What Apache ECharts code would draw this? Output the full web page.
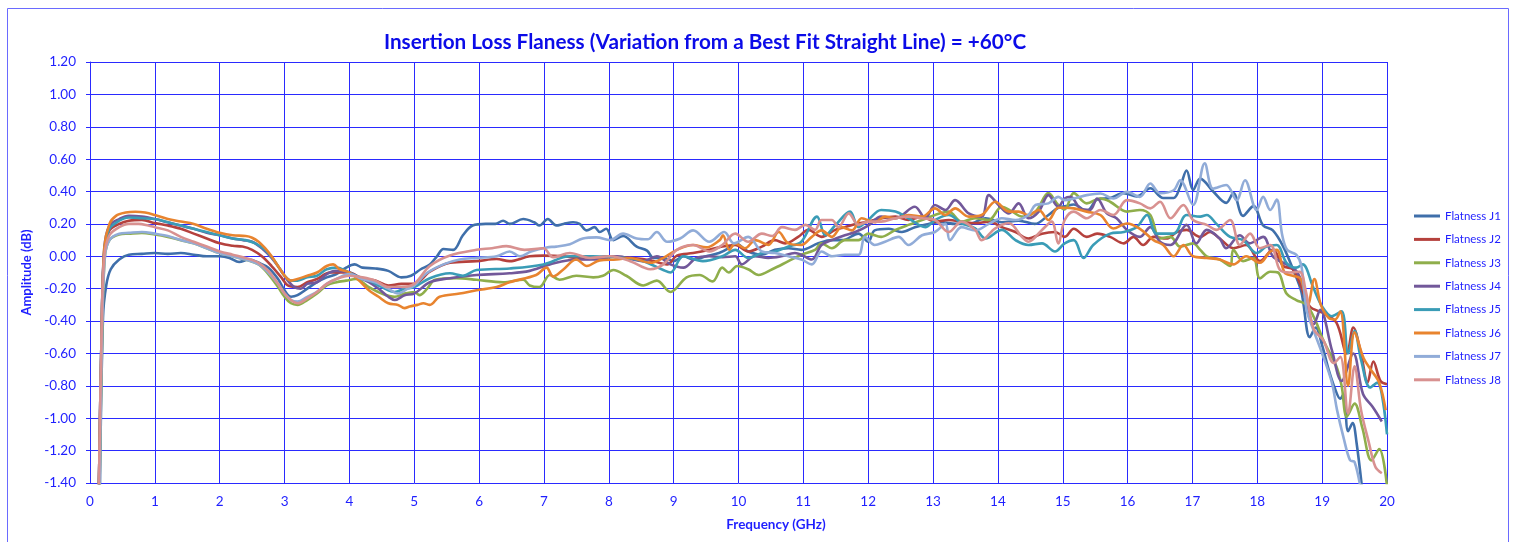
<!DOCTYPE html>
<html>
<head>
<meta charset="utf-8">
<title>Insertion Loss Flatness +60°C</title>
<script src="https://cdn.jsdelivr.net/npm/echarts@6/dist/echarts.min.js"></script>
<style>
  html, body { margin: 0; padding: 0; background: #ffffff; }
  #chart { width: 1516px; height: 542px; }
</style>
</head>
<body>
<div id="chart"></div>
<script>
// Flatness traces, [frequency GHz, deviation dB]
const flatnessJ1 = [[0.15,-1.55],[0.2,-0.38],[0.25,-0.18],[0.32,-0.08],[0.45,-0.02],[0.6,0.01],[0.8,0.015],[1.0,0.02],[1.2,0.015],[1.4,0.02],[1.6,0.01],[1.8,0.0],[2.0,0.0],[2.15,-0.01],[2.3,-0.035],[2.45,-0.02],[2.6,-0.04],[2.75,-0.07],[2.9,-0.14],[3.0,-0.21],[3.1,-0.25],[3.2,-0.24],[3.35,-0.2],[3.5,-0.16],[3.65,-0.13],[3.8,-0.11],[3.95,-0.07],[4.08,-0.05],[4.2,-0.07],[4.4,-0.075],[4.6,-0.09],[4.8,-0.13],[4.95,-0.12],[5.1,-0.08],[5.24,-0.05],[5.35,0.0],[5.45,0.045],[5.6,0.04],[5.75,0.13],[5.9,0.19],[6.1,0.2],[6.25,0.2],[6.37,0.22],[6.47,0.2],[6.68,0.23],[6.85,0.21],[6.93,0.19],[7.06,0.23],[7.19,0.19],[7.3,0.2],[7.45,0.21],[7.55,0.2],[7.66,0.16],[7.78,0.18],[7.86,0.15],[7.96,0.17],[8.07,0.1],[8.22,0.125],[8.43,0.06],[8.59,0.035],[8.69,-0.01],[8.85,-0.01],[9.0,-0.03],[9.15,0.0],[9.3,-0.02],[9.5,0.0],[9.7,0.02],[9.85,0.05],[9.95,0.08],[10.15,0.03],[10.36,0.01],[10.56,0.04],[10.77,0.05],[10.97,0.04],[11.23,0.08],[11.44,0.1],[11.6,0.1],[11.85,0.14],[12.0,0.09],[12.1,0.16],[12.32,0.17],[12.52,0.15],[12.72,0.18],[12.93,0.2],[13.14,0.21],[13.34,0.2],[13.55,0.2],[13.81,0.235],[14.06,0.21],[14.32,0.22],[14.57,0.2],[14.78,0.255],[14.93,0.3],[15.05,0.31],[15.17,0.32],[15.37,0.28],[15.53,0.35],[15.73,0.36],[15.94,0.39],[16.14,0.37],[16.35,0.42],[16.55,0.36],[16.71,0.36],[16.81,0.43],[16.91,0.53],[17.01,0.41],[17.12,0.48],[17.32,0.4],[17.52,0.33],[17.63,0.39],[17.78,0.25],[17.94,0.31],[18.09,0.19],[18.24,0.16],[18.4,0.06],[18.55,-0.08],[18.68,-0.22],[18.81,-0.5],[18.9,-0.44],[19.0,-0.55],[19.1,-0.7],[19.2,-0.82],[19.28,-0.88],[19.33,-0.85],[19.4,-1.08],[19.47,-1.03],[19.53,-1.15],[19.62,-1.45]];
const flatnessJ2 = [[0.13,-1.6],[0.18,-0.45],[0.22,0.02],[0.3,0.16],[0.45,0.2],[0.6,0.22],[0.8,0.225],[1.0,0.205],[1.2,0.19],[1.4,0.17],[1.6,0.14],[1.8,0.11],[2.0,0.08],[2.2,0.065],[2.35,0.06],[2.5,0.04],[2.65,0.0],[2.8,-0.06],[2.95,-0.13],[3.05,-0.18],[3.2,-0.19],[3.35,-0.16],[3.5,-0.14],[3.7,-0.1],[3.85,-0.1],[4.0,-0.1],[4.2,-0.14],[4.4,-0.15],[4.6,-0.18],[4.8,-0.17],[5.0,-0.17],[5.24,-0.095],[5.55,-0.04],[5.96,-0.03],[6.27,-0.017],[6.47,-0.03],[6.78,0.0],[6.99,0.004],[7.3,0.0],[7.66,-0.017],[8.0,0.0],[8.33,-0.01],[8.64,-0.025],[8.9,-0.05],[9.05,0.004],[9.3,0.02],[9.55,0.04],[9.75,0.06],[9.95,0.07],[10.15,0.03],[10.36,0.06],[10.56,0.1],[10.72,0.08],[10.92,0.12],[11.08,0.163],[11.28,0.12],[11.49,0.163],[11.64,0.18],[11.85,0.204],[12.0,0.214],[12.2,0.235],[12.42,0.245],[12.62,0.224],[12.83,0.245],[13.03,0.214],[13.24,0.224],[13.44,0.214],[13.65,0.204],[13.86,0.214],[14.06,0.18],[14.27,0.15],[14.47,0.11],[14.68,0.14],[14.88,0.15],[15.03,0.12],[15.17,0.17],[15.37,0.12],[15.53,0.14],[15.73,0.12],[15.94,0.08],[16.09,0.12],[16.24,0.07],[16.4,0.12],[16.6,0.11],[16.76,0.15],[16.91,0.163],[17.12,0.12],[17.27,0.15],[17.42,0.11],[17.63,0.05],[17.83,0.07],[18.04,-0.03],[18.24,0.04],[18.4,-0.06],[18.55,-0.08],[18.65,-0.16],[18.81,-0.31],[19.02,-0.35],[19.22,-0.41],[19.38,-0.6],[19.48,-0.44],[19.6,-0.6],[19.7,-0.78],[19.79,-0.65],[19.9,-0.77],[20.0,-0.79]];
const flatnessJ3 = [[0.14,-1.6],[0.19,-0.45],[0.23,0.0],[0.3,0.1],[0.45,0.135],[0.6,0.14],[0.8,0.145],[1.0,0.135],[1.2,0.12],[1.4,0.1],[1.6,0.08],[1.8,0.05],[2.0,0.02],[2.2,0.0],[2.4,-0.02],[2.6,-0.05],[2.75,-0.11],[2.9,-0.19],[3.0,-0.25],[3.1,-0.29],[3.2,-0.3],[3.35,-0.27],[3.5,-0.23],[3.65,-0.18],[3.8,-0.16],[3.95,-0.15],[4.1,-0.14],[4.3,-0.19],[4.5,-0.23],[4.7,-0.25],[4.85,-0.23],[5.0,-0.22],[5.08,-0.24],[5.2,-0.2],[5.32,-0.145],[5.65,-0.135],[5.96,-0.145],[6.37,-0.16],[6.68,-0.145],[6.78,-0.18],[6.93,-0.19],[7.09,-0.115],[7.24,-0.145],[7.5,-0.12],[7.76,-0.13],[7.91,-0.12],[8.07,-0.085],[8.27,-0.12],[8.53,-0.18],[8.74,-0.15],[8.95,-0.22],[9.2,-0.13],[9.4,-0.115],[9.6,-0.155],[9.75,-0.07],[9.85,-0.1],[9.98,-0.06],[10.15,-0.08],[10.31,-0.115],[10.52,-0.08],[10.77,-0.03],[10.97,0.01],[11.18,0.04],[11.28,0.08],[11.44,0.05],[11.64,0.1],[11.85,0.1],[12.0,0.14],[12.2,0.12],[12.42,0.163],[12.62,0.194],[12.83,0.224],[13.03,0.255],[13.24,0.276],[13.44,0.214],[13.65,0.235],[13.86,0.224],[14.06,0.306],[14.22,0.276],[14.37,0.245],[14.58,0.276],[14.78,0.39],[14.93,0.317],[15.03,0.29],[15.17,0.39],[15.37,0.327],[15.58,0.357],[15.73,0.337],[15.99,0.276],[16.19,0.286],[16.35,0.255],[16.5,0.11],[16.66,0.12],[16.81,0.06],[17.01,0.08],[17.12,0.04],[17.22,0.0],[17.42,-0.02],[17.58,-0.06],[17.63,0.04],[17.78,-0.03],[17.94,-0.01],[18.04,-0.136],[18.2,-0.095],[18.32,-0.1],[18.45,-0.23],[18.6,-0.27],[18.76,-0.3],[18.9,-0.4],[19.02,-0.52],[19.22,-0.68],[19.3,-0.8],[19.38,-0.99],[19.5,-0.91],[19.62,-1.06],[19.76,-1.26],[19.88,-1.19],[20.0,-1.42]];
const flatnessJ4 = [[0.13,-1.6],[0.18,-0.45],[0.22,0.05],[0.3,0.19],[0.45,0.23],[0.6,0.25],[0.8,0.245],[1.0,0.23],[1.2,0.21],[1.4,0.19],[1.6,0.17],[1.8,0.145],[2.0,0.13],[2.2,0.11],[2.36,0.1],[2.5,0.09],[2.65,0.05],[2.8,-0.01],[2.95,-0.09],[3.05,-0.15],[3.15,-0.19],[3.25,-0.2],[3.35,-0.17],[3.5,-0.16],[3.65,-0.11],[3.8,-0.09],[4.0,-0.1],[4.15,-0.13],[4.3,-0.16],[4.45,-0.2],[4.6,-0.25],[4.7,-0.27],[4.85,-0.24],[5.0,-0.23],[5.24,-0.16],[5.55,-0.135],[5.96,-0.115],[6.47,-0.105],[6.78,-0.09],[7.09,-0.05],[7.5,-0.02],[7.81,-0.02],[8.12,0.0],[8.53,-0.03],[8.74,0.0],[8.95,-0.05],[9.15,-0.07],[9.35,-0.01],[9.55,0.0],[9.75,-0.005],[9.95,0.0],[10.05,-0.05],[10.25,0.0],[10.46,-0.01],[10.66,0.0],[10.87,0.02],[10.97,0.01],[11.13,-0.02],[11.28,0.07],[11.44,0.1],[11.64,0.13],[11.8,0.15],[12.0,0.19],[12.2,0.245],[12.42,0.235],[12.72,0.306],[12.88,0.235],[13.03,0.317],[13.19,0.286],[13.34,0.347],[13.55,0.265],[13.75,0.245],[13.86,0.378],[14.01,0.317],[14.17,0.265],[14.32,0.327],[14.47,0.235],[14.63,0.276],[14.78,0.378],[14.93,0.306],[15.03,0.357],[15.12,0.367],[15.27,0.296],[15.42,0.286],[15.53,0.357],[15.68,0.265],[15.83,0.235],[15.99,0.163],[16.19,0.12],[16.35,0.18],[16.5,0.09],[16.66,0.07],[16.91,0.194],[17.06,0.08],[17.22,0.163],[17.42,0.11],[17.52,0.05],[17.73,0.13],[17.88,0.08],[18.09,0.12],[18.24,0.0],[18.45,-0.05],[18.6,-0.09],[18.7,-0.18],[18.78,-0.33],[18.87,-0.42],[18.97,-0.33],[19.15,-0.58],[19.3,-0.77],[19.48,-0.6],[19.63,-0.85],[19.78,-0.93],[19.92,-1.02]];
const flatnessJ5 = [[0.13,-1.6],[0.18,-0.45],[0.22,0.03],[0.3,0.17],[0.45,0.22],[0.6,0.24],[0.8,0.235],[1.0,0.23],[1.2,0.21],[1.4,0.19],[1.6,0.17],[1.8,0.15],[2.0,0.13],[2.2,0.11],[2.4,0.1],[2.55,0.08],[2.7,0.04],[2.85,-0.03],[3.0,-0.12],[3.1,-0.15],[3.2,-0.15],[3.35,-0.13],[3.5,-0.12],[3.65,-0.08],[3.8,-0.07],[3.95,-0.09],[4.1,-0.12],[4.3,-0.15],[4.5,-0.19],[4.7,-0.22],[4.85,-0.2],[5.0,-0.19],[5.24,-0.135],[5.55,-0.105],[5.75,-0.12],[5.96,-0.085],[6.47,-0.075],[6.99,-0.05],[7.4,0.0],[7.75,0.0],[8.22,-0.01],[8.53,-0.03],[8.84,-0.085],[8.95,-0.1],[9.15,0.0],[9.45,-0.03],[9.75,0.0],[9.95,0.04],[10.15,-0.01],[10.36,0.02],[10.56,0.03],[10.77,0.06],[10.97,0.09],[11.21,0.245],[11.34,0.13],[11.49,0.19],[11.72,0.276],[11.85,0.18],[12.0,0.224],[12.2,0.286],[12.42,0.276],[12.62,0.235],[12.88,0.18],[13.03,0.224],[13.24,0.255],[13.44,0.204],[13.65,0.173],[13.81,0.11],[14.06,0.163],[14.27,0.1],[14.47,0.07],[14.68,0.08],[14.88,0.03],[15.03,0.08],[15.17,0.1],[15.32,-0.01],[15.47,0.07],[15.73,0.14],[15.94,0.15],[16.14,0.18],[16.3,0.255],[16.45,0.14],[16.71,0.14],[16.91,0.255],[17.12,0.245],[17.22,0.255],[17.37,0.2],[17.58,0.12],[17.78,0.1],[17.99,0.02],[18.14,0.06],[18.3,0.07],[18.45,-0.04],[18.6,-0.07],[18.7,-0.05],[18.86,-0.19],[19.0,-0.31],[19.15,-0.37],[19.3,-0.34],[19.4,-0.6],[19.5,-0.46],[19.6,-0.64],[19.74,-0.81],[19.85,-0.78],[20.0,-1.1]];
const flatnessJ6 = [[0.13,-1.6],[0.18,-0.5],[0.22,0.05],[0.3,0.2],[0.4,0.25],[0.55,0.27],[0.7,0.275],[0.85,0.27],[1.0,0.255],[1.2,0.23],[1.4,0.215],[1.6,0.2],[1.8,0.17],[2.0,0.145],[2.2,0.13],[2.4,0.125],[2.5,0.115],[2.6,0.09],[2.7,0.05],[2.8,0.0],[2.9,-0.06],[3.0,-0.12],[3.1,-0.15],[3.2,-0.14],[3.35,-0.12],[3.5,-0.1],[3.65,-0.06],[3.75,-0.05],[3.85,-0.08],[4.0,-0.1],[4.15,-0.15],[4.3,-0.21],[4.45,-0.25],[4.6,-0.29],[4.75,-0.3],[4.85,-0.32],[4.93,-0.31],[5.05,-0.3],[5.14,-0.29],[5.24,-0.3],[5.39,-0.25],[5.7,-0.23],[5.96,-0.21],[6.27,-0.19],[6.47,-0.16],[6.88,-0.115],[7.04,-0.07],[7.14,-0.125],[7.29,-0.085],[7.5,-0.02],[7.66,-0.06],[7.86,-0.025],[8.12,-0.02],[8.33,-0.01],[8.64,-0.04],[8.84,-0.01],[9.05,0.04],[9.3,0.07],[9.5,0.055],[9.71,0.1],[9.76,0.13],[9.86,0.04],[9.95,0.08],[10.1,0.05],[10.26,0.1],[10.46,0.07],[10.62,0.15],[10.77,0.08],[10.97,0.07],[11.13,0.12],[11.28,0.16],[11.44,0.12],[11.59,0.18],[11.75,0.16],[11.9,0.235],[12.1,0.21],[12.26,0.245],[12.42,0.235],[12.62,0.255],[12.83,0.245],[13.03,0.296],[13.19,0.255],[13.34,0.296],[13.55,0.245],[13.75,0.255],[13.96,0.337],[14.17,0.276],[14.32,0.276],[14.47,0.255],[14.63,0.286],[14.78,0.224],[14.93,0.3],[15.03,0.3],[15.17,0.296],[15.37,0.276],[15.58,0.255],[15.78,0.172],[15.99,0.203],[16.19,0.17],[16.4,0.1],[16.55,0.07],[16.71,0.0],[16.86,0.07],[17.01,0.0],[17.22,-0.01],[17.42,-0.02],[17.63,-0.05],[17.83,0.0],[18.04,-0.04],[18.2,0.03],[18.3,0.04],[18.42,-0.1],[18.55,-0.12],[18.67,-0.14],[18.78,-0.3],[18.88,-0.14],[18.98,-0.3],[19.1,-0.38],[19.2,-0.39],[19.28,-0.34],[19.4,-0.8],[19.5,-0.47],[19.64,-0.63],[19.75,-0.7],[19.88,-0.78],[19.98,-0.95]];
const flatnessJ7 = [[0.14,-1.6],[0.19,-0.4],[0.23,0.0],[0.3,0.1],[0.45,0.14],[0.6,0.145],[0.8,0.15],[1.0,0.14],[1.2,0.125],[1.4,0.1],[1.6,0.08],[1.8,0.05],[2.0,0.02],[2.2,0.0],[2.4,-0.02],[2.6,-0.05],[2.75,-0.1],[2.9,-0.17],[3.0,-0.23],[3.1,-0.27],[3.2,-0.28],[3.35,-0.25],[3.5,-0.22],[3.65,-0.17],[3.8,-0.14],[4.0,-0.11],[4.2,-0.14],[4.4,-0.16],[4.6,-0.2],[4.75,-0.23],[4.9,-0.2],[5.0,-0.18],[5.19,-0.105],[5.45,-0.05],[5.7,-0.02],[5.96,-0.01],[6.27,0.0],[6.47,0.03],[6.63,0.0],[6.8,0.03],[7.04,0.055],[7.19,0.06],[7.4,0.075],[7.6,0.11],[7.81,0.117],[8.02,0.1],[8.22,0.14],[8.43,0.11],[8.6,0.105],[8.74,0.15],[8.9,0.09],[9.1,0.11],[9.3,0.16],[9.55,0.09],[9.78,0.15],[9.93,0.08],[10.15,0.12],[10.36,0.03],[10.56,0.02],[10.77,0.0],[10.97,-0.02],[11.13,-0.05],[11.28,0.03],[11.44,0.0],[11.64,0.01],[11.85,0.01],[11.95,0.12],[12.1,0.07],[12.26,0.09],[12.47,0.12],[12.62,0.07],[12.83,0.13],[13.03,0.15],[13.19,0.2],[13.26,0.1],[13.44,0.18],[13.65,0.16],[13.86,0.2],[14.06,0.235],[14.27,0.224],[14.47,0.255],[14.58,0.317],[14.78,0.327],[14.93,0.367],[15.03,0.347],[15.17,0.357],[15.37,0.378],[15.58,0.388],[15.78,0.357],[15.99,0.398],[16.19,0.367],[16.35,0.45],[16.5,0.39],[16.71,0.408],[16.81,0.47],[17.01,0.317],[17.19,0.574],[17.32,0.418],[17.52,0.44],[17.68,0.347],[17.81,0.47],[17.99,0.286],[18.09,0.367],[18.2,0.286],[18.3,0.35],[18.38,0.14],[18.46,0.04],[18.6,0.01],[18.68,-0.06],[18.76,-0.33],[18.87,-0.46],[19.0,-0.6],[19.15,-0.78],[19.23,-0.95],[19.33,-1.12],[19.43,-1.26],[19.5,-1.27],[19.6,-1.45]];
const flatnessJ8 = [[0.13,-1.6],[0.18,-0.45],[0.22,0.0],[0.3,0.13],[0.45,0.18],[0.6,0.2],[0.75,0.2],[0.9,0.19],[1.0,0.18],[1.2,0.16],[1.4,0.12],[1.6,0.09],[1.8,0.06],[2.0,0.03],[2.2,0.01],[2.4,-0.01],[2.6,-0.04],[2.75,-0.09],[2.9,-0.17],[3.0,-0.23],[3.1,-0.27],[3.2,-0.29],[3.35,-0.26],[3.5,-0.22],[3.65,-0.17],[3.8,-0.14],[4.0,-0.12],[4.2,-0.13],[4.4,-0.15],[4.6,-0.19],[4.8,-0.19],[5.0,-0.17],[5.24,-0.06],[5.55,0.005],[5.96,0.04],[6.2,0.05],[6.42,0.063],[6.7,0.04],[6.99,0.05],[7.14,-0.005],[7.4,0.02],[7.71,-0.01],[8.02,0.0],[8.33,-0.03],[8.64,-0.08],[8.84,-0.05],[9.05,0.04],[9.3,0.07],[9.55,0.03],[9.75,0.07],[9.95,0.14],[10.15,0.09],[10.36,0.14],[10.52,0.125],[10.67,0.18],[10.87,0.163],[11.03,0.194],[11.18,0.163],[11.28,0.224],[11.44,0.224],[11.54,0.18],[11.7,0.265],[11.85,0.194],[12.0,0.214],[12.2,0.214],[12.42,0.235],[12.62,0.245],[12.83,0.235],[13.03,0.224],[13.24,0.15],[13.44,0.214],[13.65,0.163],[13.75,0.1],[13.96,0.173],[14.17,0.204],[14.37,0.12],[14.47,0.09],[14.68,0.163],[14.83,0.214],[14.93,0.08],[15.03,0.224],[15.17,0.276],[15.37,0.235],[15.58,0.286],[15.78,0.255],[15.99,0.347],[16.19,0.327],[16.35,0.296],[16.5,0.337],[16.66,0.235],[16.86,0.317],[17.01,0.224],[17.22,0.194],[17.37,0.163],[17.58,0.224],[17.73,0.07],[17.89,0.14],[18.04,0.05],[18.2,0.07],[18.35,-0.085],[18.5,-0.1],[18.65,-0.095],[18.75,-0.22],[18.87,-0.45],[19.02,-0.52],[19.18,-0.66],[19.28,-0.62],[19.4,-0.97],[19.5,-0.68],[19.6,-0.95],[19.72,-1.15],[19.82,-1.3],[19.92,-1.34]];

const seriesNames = ['Flatness J1','Flatness J2','Flatness J3','Flatness J4','Flatness J5','Flatness J6','Flatness J7','Flatness J8'];
const seriesData = [flatnessJ1, flatnessJ2, flatnessJ3, flatnessJ4, flatnessJ5, flatnessJ6, flatnessJ7, flatnessJ8];
const seriesColors = ['#3F6FAA','#B5413D','#8FAE4B','#72589A','#3A9CB6','#E8842F','#91ACD8','#D89190'];

const xTicks = { min: 0, max: 20, step: 1 };
const yTicks = { min: -1.4, max: 1.2, step: 0.2 };

const blue = '#1f1fff';
const gridBlue = '#2a2aff';
const font = 'Lato, "Liberation Sans", sans-serif';

const chart = echarts.init(document.getElementById('chart'), null, { renderer: 'canvas' });

chart.setOption({
  backgroundColor: '#ffffff',
  animation: false,
  title: [
    {
      text: 'Insertion Loss Flaness (Variation from a Best Fit Straight Line) = +60°C',
      left: 700, top: 27, textAlign: 'center',
      textStyle: { color: '#0b0be8', fontSize: 20.7, fontWeight: 'bold', fontFamily: font }
    },
    {
      text: 'Frequency (GHz)',
      left: 771, top: 513, textAlign: 'center',
      textStyle: { color: blue, fontSize: 13.5, fontWeight: 'bold', fontFamily: font }
    }
  ],
  graphic: [{
    type: 'rect', silent: true, z: -1,
    shape: { x: 7.5, y: 8.5, width: 1501, height: 545 },
    style: { fill: 'none', stroke: '#6a6aff', lineWidth: 1 }
  }],
  legend: {
    orient: 'vertical',
    left: 1409, top: 204,
    icon: 'rect',
    itemWidth: 26, itemHeight: 3, itemGap: 9.4,
    textStyle: { color: blue, fontSize: 11.5, fontFamily: font, lineHeight: 14 },
    data: seriesNames
  },
  grid: { left: 90, top: 62, width: 1297, height: 421, containLabel: false },
  xAxis: {
    type: 'value',
    min: xTicks.min, max: xTicks.max, interval: xTicks.step,
    axisLine: { show: true, lineStyle: { color: gridBlue, width: 1 } },
    axisTick: { show: true, length: 4, lineStyle: { color: gridBlue } },
    axisLabel: { color: blue, fontSize: 13.5, fontFamily: font, margin: 12 },
    splitLine: { show: true, lineStyle: { color: gridBlue, width: 1 } }
  },
  yAxis: {
    type: 'value',
    min: yTicks.min, max: yTicks.max, interval: yTicks.step,
    name: 'Amplitude (dB)', nameLocation: 'middle', nameGap: 51, nameRotate: 90,
    nameTextStyle: { color: blue, fontSize: 13, fontWeight: 'bold', fontFamily: font },
    axisLine: { show: true, lineStyle: { color: gridBlue, width: 1 } },
    axisTick: { show: true, length: 4, lineStyle: { color: gridBlue } },
    axisLabel: { color: blue, fontSize: 13.5, fontFamily: font, margin: 14,
      formatter: v => v.toFixed(2) },
    splitLine: { show: true, lineStyle: { color: gridBlue, width: 1 } }
  },
  series: seriesNames.map((name, i) => ({
    name,
    type: 'line',
    data: seriesData[i],
    symbol: 'none',
    smooth: 0.35,
    clip: true,
    color: seriesColors[i],
    lineStyle: { color: seriesColors[i], width: 2.6 }
  }))
});
</script>
</body>
</html>
